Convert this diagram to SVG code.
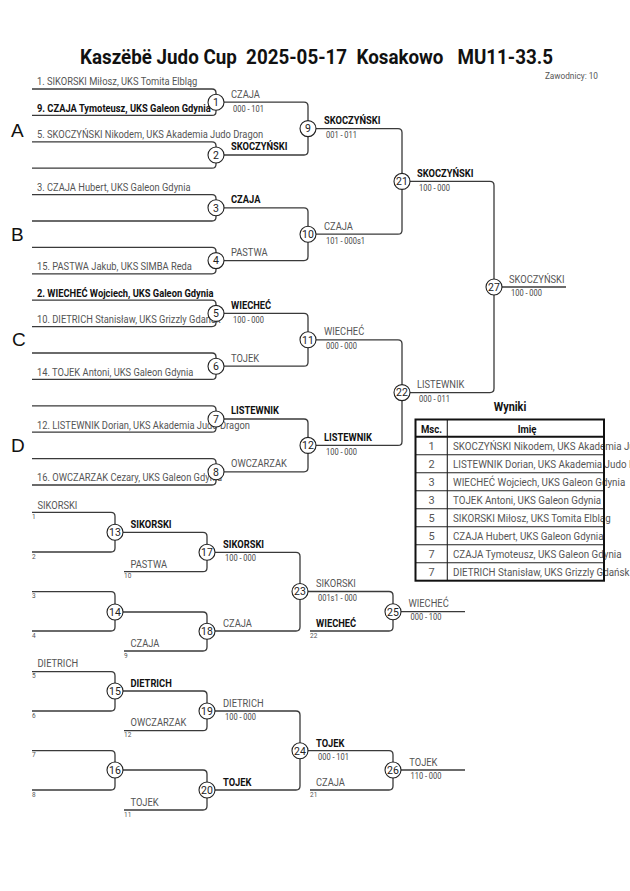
<svg xmlns="http://www.w3.org/2000/svg" width="630" height="891" viewBox="0 0 630 891">
<style>
text{font-family:Roboto,"Noto Sans","DejaVu Sans",sans-serif}
.sc{transform-box:fill-box;transform-origin:0 0;transform:scaleX(0.89)}
.scm{transform-box:fill-box;transform-origin:50% 0;transform:scaleX(0.87)}
.n{font-size:10.5px;fill:#555}
.b{font-size:10.5px;fill:#111;font-weight:bold}
.s{font-size:8.4px;fill:#444}
.m{font-size:10.5px;fill:#222;text-anchor:middle}
.x{font-size:6.5px;fill:#555}
.L{font-family:"Liberation Sans",Arial,sans-serif;font-size:19px;fill:#111}
.w{fill:none;stroke:#3a3a3a;stroke-width:1.3}
.c{fill:#fff;stroke:#222;stroke-width:1.1}
.tb{font-size:11px;fill:#555}
.th{font-size:11px;fill:#111;font-weight:bold;text-anchor:middle}
.tn{font-size:11px;fill:#555;text-anchor:middle}
.g1{stroke:#222;stroke-width:1.1}
.g2{fill:none;stroke:#111;stroke-width:2}
</style>

<g id="header">
<text x="80" y="64" font-size="21" font-weight="bold" fill="#111" textLength="473" lengthAdjust="spacingAndGlyphs" xml:space="preserve">Kaszëbë Judo Cup  2025-05-17  Kosakowo   MU11-33.5</text>
<text x="598" y="79" font-size="9.5" fill="#555" text-anchor="end" class="scm" style="transform-origin:100% 0">Zawodnicy: 10</text>
</g>

<g id="pools">
<text class="L" x="11" y="137">A</text>
<text class="L" x="11" y="241">B</text>
<text class="L" x="12" y="346">C</text>
<text class="L" x="11" y="452">D</text>
</g>

<g id="connectors">
<path class="w" d="M32,89 H212 Q216,89 216,93 V111.4 Q216,115.4 212,115.4 H32"/>
<path class="w" d="M32,141.8 H212 Q216,141.8 216,145.8 V164.2 Q216,168.2 212,168.2 H32"/>
<path class="w" d="M32,194.6 H212 Q216,194.6 216,198.6 V217 Q216,221 212,221 H32"/>
<path class="w" d="M32,247.4 H212 Q216,247.4 216,251.4 V269.8 Q216,273.8 212,273.8 H32"/>
<path class="w" d="M32,300.2 H212 Q216,300.2 216,304.2 V322.6 Q216,326.6 212,326.6 H32"/>
<path class="w" d="M32,353 H212 Q216,353 216,357 V375.4 Q216,379.4 212,379.4 H32"/>
<path class="w" d="M32,405.8 H212 Q216,405.8 216,409.8 V428.2 Q216,432.2 212,432.2 H32"/>
<path class="w" d="M32,458.6 H212 Q216,458.6 216,462.6 V481 Q216,485 212,485 H32"/>
<path class="w" d="M216,102.2 H304 Q308,102.2 308,106.2 V151 Q308,155 304,155 H216"/>
<path class="w" d="M216,207.8 H304 Q308,207.8 308,211.8 V256.6 Q308,260.6 304,260.6 H216"/>
<path class="w" d="M216,313.4 H304 Q308,313.4 308,317.4 V362.2 Q308,366.2 304,366.2 H216"/>
<path class="w" d="M216,419 H304 Q308,419 308,423 V467.8 Q308,471.8 304,471.8 H216"/>
<path class="w" d="M308,128.6 H398 Q402,128.6 402,132.6 V230.2 Q402,234.2 398,234.2 H308"/>
<path class="w" d="M308,339.8 H398 Q402,339.8 402,343.8 V441.4 Q402,445.4 398,445.4 H308"/>
<path class="w" d="M402,181.4 H490 Q494,181.4 494,185.4 V388.6 Q494,392.6 490,392.6 H402"/>
<path class="w" d="M494,287 H566"/>
<path class="w" d="M32,512.3 H111 Q115,512.3 115,516.3 V548 Q115,552 111,552 H32"/>
<path class="w" d="M32,591.7 H111 Q115,591.7 115,595.7 V627 Q115,631 111,631 H32"/>
<path class="w" d="M32,671.7 H111 Q115,671.7 115,675.7 V707 Q115,711 111,711 H32"/>
<path class="w" d="M32,750.7 H111 Q115,750.7 115,754.7 V786 Q115,790 111,790 H32"/>
<path class="w" d="M115,532.3 H203 Q207,532.3 207,536.3 V567.7 Q207,571.7 203,571.7 H124"/>
<path class="w" d="M115,612 H203 Q207,612 207,616 V647 Q207,651 203,651 H124"/>
<path class="w" d="M115,691 H203 Q207,691 207,695 V726.7 Q207,730.7 203,730.7 H124"/>
<path class="w" d="M115,770 H203 Q207,770 207,774 V806 Q207,810 203,810 H124"/>
<path class="w" d="M207,552.3 H296 Q300,552.3 300,556.3 V627 Q300,631 296,631 H207"/>
<path class="w" d="M207,711 H296 Q300,711 300,715 V786 Q300,790 296,790 H207"/>
<path class="w" d="M300,591.5 H389 Q393,591.5 393,595.5 V627 Q393,631 389,631 H310"/>
<path class="w" d="M300,750.7 H389 Q393,750.7 393,754.7 V786 Q393,790 389,790 H310"/>
<path class="w" d="M393,611.7 H465"/>
<path class="w" d="M393,770 H465"/>
</g>

<g id="entries">
<text class="n sc" x="37" y="85.5">1. SIKORSKI Miłosz, UKS Tomita Elbląg</text>
<text class="b sc" x="37" y="111.9">9. CZAJA Tymoteusz, UKS Galeon Gdynia</text>
<text class="n sc" x="37" y="138.3">5. SKOCZYŃSKI Nikodem, UKS Akademia Judo Dragon</text>
<text class="n sc" x="37" y="191.1">3. CZAJA Hubert, UKS Galeon Gdynia</text>
<text class="n sc" x="37" y="270.3">15. PASTWA Jakub, UKS SIMBA Reda</text>
<text class="b sc" x="37" y="296.7">2. WIECHEĆ Wojciech, UKS Galeon Gdynia</text>
<text class="n sc" x="37" y="323.1">10. DIETRICH Stanisław, UKS Grizzly Gdańsk</text>
<text class="n sc" x="37" y="375.9">14. TOJEK Antoni, UKS Galeon Gdynia</text>
<text class="n sc" x="37" y="428.7">12. LISTEWNIK Dorian, UKS Akademia Judo Dragon</text>
<text class="n sc" x="37" y="481.5">16. OWCZARZAK Cezary, UKS Galeon Gdynia</text>
</g>

<g id="labels">
<text class="n sc" x="231" y="97.7">CZAJA</text><text class="s sc" x="233" y="112">000 - 101</text>
<text class="b sc" x="231" y="150.5">SKOCZYŃSKI</text>
<text class="b sc" x="231" y="203.5">CZAJA</text>
<text class="n sc" x="231" y="256">PASTWA</text>
<text class="b sc" x="231" y="309">WIECHEĆ</text><text class="s sc" x="233" y="323.4">100 - 000</text>
<text class="n sc" x="231" y="361.7">TOJEK</text>
<text class="b sc" x="231" y="414.5">LISTEWNIK</text>
<text class="n sc" x="231" y="467.3">OWCZARZAK</text>

<text class="b sc" x="324" y="124.3">SKOCZYŃSKI</text><text class="s sc" x="326" y="138">001 - 011</text>
<text class="n sc" x="324" y="229.8">CZAJA</text><text class="s sc" x="326" y="243.6">101 - 000s1</text>
<text class="n sc" x="324" y="335.4">WIECHEĆ</text><text class="s sc" x="326" y="349.2">000 - 000</text>
<text class="b sc" x="324" y="441">LISTEWNIK</text><text class="s sc" x="326" y="454.8">100 - 000</text>

<text class="b sc" x="417" y="177">SKOCZYŃSKI</text><text class="s sc" x="419" y="190.8">100 - 000</text>
<text class="n sc" x="417" y="388.4">LISTEWNIK</text><text class="s sc" x="419" y="402">000 - 011</text>

<text class="n sc" x="509" y="282.6">SKOCZYŃSKI</text><text class="s sc" x="511" y="296.4">100 - 000</text>

<text class="n sc" x="37.5" y="508.6">SIKORSKI</text><text class="x" x="32" y="519">1</text>
<text class="x" x="32" y="558.6">2</text>
<text class="b sc" x="130.5" y="528">SIKORSKI</text>
<text class="n sc" x="130.5" y="567.7">PASTWA</text><text class="x" x="124" y="578">10</text>
<text class="b sc" x="223" y="547.8">SIKORSKI</text><text class="s sc" x="225" y="561.5">100 - 000</text>
<text class="x" x="32" y="598">3</text>
<text class="x" x="32" y="637.6">4</text>
<text class="n sc" x="130.5" y="647">CZAJA</text><text class="x" x="124" y="657.5">9</text>
<text class="n sc" x="223" y="627">CZAJA</text>
<text class="n sc" x="316" y="587.5">SIKORSKI</text><text class="s sc" x="318" y="600.8">001s1 - 000</text>
<text class="b sc" x="316" y="626.7">WIECHEĆ</text><text class="x" x="310" y="637.5">22</text>
<text class="n sc" x="408.5" y="607.2">WIECHEĆ</text><text class="s sc" x="410.5" y="620.5">000 - 100</text>

<text class="n sc" x="37.5" y="667.5">DIETRICH</text><text class="x" x="32" y="678">5</text>
<text class="x" x="32" y="717.5">6</text>
<text class="b sc" x="130.5" y="687">DIETRICH</text>
<text class="n sc" x="130.5" y="726.5">OWCZARZAK</text><text class="x" x="124" y="737">12</text>
<text class="n sc" x="223" y="706.6">DIETRICH</text><text class="s sc" x="225" y="720.2">100 - 000</text>
<text class="x" x="32" y="757">7</text>
<text class="x" x="32" y="796.5">8</text>
<text class="n sc" x="130.5" y="806">TOJEK</text><text class="x" x="124" y="816.5">11</text>
<text class="b sc" x="223" y="786">TOJEK</text>
<text class="b sc" x="316" y="746.8">TOJEK</text><text class="s sc" x="318" y="760">000 - 101</text>
<text class="n sc" x="316" y="786.3">CZAJA</text><text class="x" x="310" y="796.5">21</text>
<text class="n sc" x="409.3" y="766">TOJEK</text><text class="s sc" x="410.5" y="779.5">110 - 000</text>
</g>

<g id="m1"><circle class="c" cx="216" cy="102.2" r="8"/><text class="m" x="216" y="106">1</text></g>
<g id="m2"><circle class="c" cx="216" cy="155" r="8"/><text class="m" x="216" y="158.8">2</text></g>
<g id="m3"><circle class="c" cx="216" cy="207.8" r="8"/><text class="m" x="216" y="211.6">3</text></g>
<g id="m4"><circle class="c" cx="216" cy="260.6" r="8"/><text class="m" x="216" y="264.4">4</text></g>
<g id="m5"><circle class="c" cx="216" cy="313.4" r="8"/><text class="m" x="216" y="317.2">5</text></g>
<g id="m6"><circle class="c" cx="216" cy="366.2" r="8"/><text class="m" x="216" y="370">6</text></g>
<g id="m7"><circle class="c" cx="216" cy="419" r="8"/><text class="m" x="216" y="422.8">7</text></g>
<g id="m8"><circle class="c" cx="216" cy="471.8" r="8"/><text class="m" x="216" y="475.6">8</text></g>
<g id="m9"><circle class="c" cx="308" cy="128.6" r="8"/><text class="m" x="308" y="132.4">9</text></g>
<g id="m10"><circle class="c" cx="308" cy="234.2" r="8"/><text class="m" x="308" y="238">10</text></g>
<g id="m11"><circle class="c" cx="308" cy="339.8" r="8"/><text class="m" x="308" y="343.6">11</text></g>
<g id="m12"><circle class="c" cx="308" cy="445.4" r="8"/><text class="m" x="308" y="449.2">12</text></g>
<g id="m21"><circle class="c" cx="402" cy="181.4" r="8"/><text class="m" x="402" y="185.2">21</text></g>
<g id="m22"><circle class="c" cx="402" cy="392.6" r="8"/><text class="m" x="402" y="396.4">22</text></g>
<g id="m27"><circle class="c" cx="494" cy="287" r="8"/><text class="m" x="494" y="290.8">27</text></g>
<g id="m13"><circle class="c" cx="115" cy="532.3" r="8"/><text class="m" x="115" y="536.1">13</text></g>
<g id="m14"><circle class="c" cx="115" cy="612" r="8"/><text class="m" x="115" y="615.8">14</text></g>
<g id="m15"><circle class="c" cx="115" cy="691" r="8"/><text class="m" x="115" y="694.8">15</text></g>
<g id="m16"><circle class="c" cx="115" cy="770" r="8"/><text class="m" x="115" y="773.8">16</text></g>
<g id="m17"><circle class="c" cx="207" cy="552.3" r="8"/><text class="m" x="207" y="556.1">17</text></g>
<g id="m18"><circle class="c" cx="207" cy="631.3" r="8"/><text class="m" x="207" y="635.1">18</text></g>
<g id="m19"><circle class="c" cx="207" cy="711" r="8"/><text class="m" x="207" y="714.8">19</text></g>
<g id="m20"><circle class="c" cx="207" cy="790" r="8"/><text class="m" x="207" y="793.8">20</text></g>
<g id="m23"><circle class="c" cx="300" cy="591.5" r="8"/><text class="m" x="300" y="595.3">23</text></g>
<g id="m24"><circle class="c" cx="300" cy="750.7" r="8"/><text class="m" x="300" y="754.5">24</text></g>
<g id="m25"><circle class="c" cx="393" cy="611.7" r="8"/><text class="m" x="393" y="615.5">25</text></g>
<g id="m26"><circle class="c" cx="393" cy="770" r="8"/><text class="m" x="393" y="773.8">26</text></g>

<g id="results">
<text x="510" y="411" font-size="12.5" font-weight="bold" fill="#111" text-anchor="middle" class="scm">Wyniki</text>
<g class="g1">
<line x1="415.5" y1="454.7" x2="604" y2="454.7"/>
<line x1="415.5" y1="472.7" x2="604" y2="472.7"/>
<line x1="415.5" y1="490.7" x2="604" y2="490.7"/>
<line x1="415.5" y1="508.7" x2="604" y2="508.7"/>
<line x1="415.5" y1="526.7" x2="604" y2="526.7"/>
<line x1="415.5" y1="544.7" x2="604" y2="544.7"/>
<line x1="415.5" y1="562.7" x2="604" y2="562.7"/>
<line x1="447.3" y1="419.5" x2="447.3" y2="580.7"/>
</g>
<text class="th scm" x="431.5" y="433">Msc.</text>
<text class="th scm" x="527" y="433">Imię</text>
<text class="tn" x="431.5" y="450">1</text><text class="tb sc" x="453" y="450">SKOCZYŃSKI Nikodem, UKS Akademia Judo Dragon</text>
<text class="tn" x="431.5" y="468">2</text><text class="tb sc" x="453" y="468">LISTEWNIK Dorian, UKS Akademia Judo Dragon</text>
<text class="tn" x="431.5" y="486">3</text><text class="tb sc" x="453" y="486">WIECHEĆ Wojciech, UKS Galeon Gdynia</text>
<text class="tn" x="431.5" y="504">3</text><text class="tb sc" x="453" y="504">TOJEK Antoni, UKS Galeon Gdynia</text>
<text class="tn" x="431.5" y="522">5</text><text class="tb sc" x="453" y="522">SIKORSKI Miłosz, UKS Tomita Elbląg</text>
<text class="tn" x="431.5" y="540">5</text><text class="tb sc" x="453" y="540">CZAJA Hubert, UKS Galeon Gdynia</text>
<text class="tn" x="431.5" y="558">7</text><text class="tb sc" x="453" y="558">CZAJA Tymoteusz, UKS Galeon Gdynia</text>
<text class="tn" x="431.5" y="576">7</text><text class="tb sc" x="453" y="576">DIETRICH Stanisław, UKS Grizzly Gdańsk</text>
<line x1="415.5" y1="436.7" x2="604" y2="436.7" stroke="#111" stroke-width="2"/>
<rect class="g2" x="415.5" y="419.5" width="188.5" height="161.2"/>
</g>
</svg>
